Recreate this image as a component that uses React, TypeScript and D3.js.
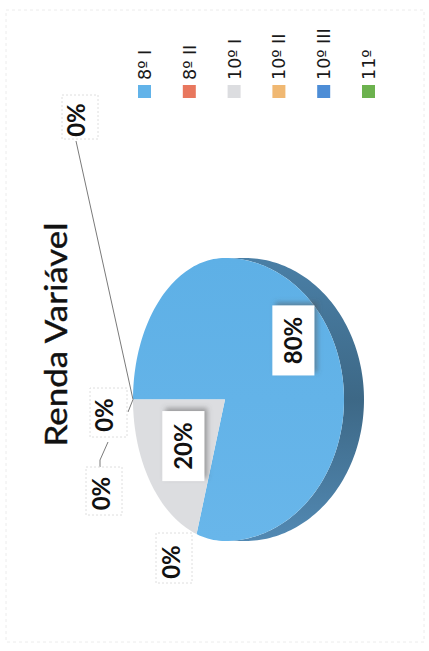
import React from "react";
import * as d3 from "d3";

const categories = ["8º I", "8º II", "10º I", "10º II", "10º III", "11º"];
const values = [80, 0, 20, 0, 0, 0];
const title = "Renda Variável";

const legendColors = ["#62b3e9", "#e8775e", "#dcdde0", "#f0b872", "#4d8dd6", "#6cb24e"];

// layout (rotated frame: u along the page height, v along the page width)
const W = 429;
const H = 651;
const UC = 251.5; // pie apex along u
const VA = 225; // pie apex along v
const RX = 141.5;
const RT = 92; // far half radius
const RB = 119; // near half radius
const DEPTH = 20;

type Box = { u0: number; u1: number; v0: number; v1: number; tu: number; tb: number };
const zeroBoxes: Record<number, Box> = {
  1: { u0: 68, u1: 118, v0: 156, v1: 192, tu: 89, tb: 180 },
  3: { u0: 214, u1: 263, v0: 90, v1: 127, tu: 236, tb: 113 },
  4: { u0: 136, u1: 184, v0: 86, v1: 122, tu: 157.5, tb: 110 },
  5: { u0: 512, u1: 556, v0: 62, v1: 98, tu: 531, tb: 85 },
};
const labelK: Record<number, number> = { 0: 0.71, 2: 0.56 };

function pt(t: number, dv = 0): [number, number] {
  const c = Math.cos(t);
  return [UC + RX * Math.sin(t), VA - (c >= 0 ? RT : RB) * c + dv];
}

function slicePath(a0: number, a1: number): string {
  const p = d3.path();
  p.moveTo(UC, VA);
  const n = Math.max(2, Math.ceil(((a1 - a0) / (2 * Math.PI)) * 200));
  for (let i = 0; i <= n; i++) {
    const [u, v] = pt(a0 + ((a1 - a0) * i) / n);
    p.lineTo(u, v);
  }
  p.closePath();
  return p.toString();
}

function sidePath(a0: number, a1: number): string | null {
  const s = Math.max(a0, Math.PI / 2);
  const e = Math.min(a1, (3 * Math.PI) / 2);
  if (e <= s) return null;
  const n = 120;
  const p = d3.path();
  for (let i = 0; i <= n; i++) {
    const [u, v] = pt(s + ((e - s) * i) / n);
    if (i === 0) p.moveTo(u, v);
    else p.lineTo(u, v);
  }
  for (let i = n; i >= 0; i--) {
    const [u, v] = pt(s + ((e - s) * i) / n, DEPTH);
    p.lineTo(u, v);
  }
  p.closePath();
  return p.toString();
}

const FONT = "Lato, 'Open Sans', 'DejaVu Sans', sans-serif";
const LEGEND_FONT = "'DejaVu Sans', sans-serif";

export default function App() {
  const arcs = d3.pie<number>().sort(null).value((d) => d)(values);
  const legendX = d3
    .scalePoint<string>()
    .domain(categories)
    .range([144.5, 368.5]);

  return (
    <svg
      width={W}
      height={H}
      style={{ position: "absolute", left: 0, top: 0, background: "#fff" }}
    >
      <defs>
        <filter id="sh" x="-30%" y="-30%" width="160%" height="160%">
          <feDropShadow dx="3" dy="3" stdDeviation="2.5" floodColor="#555" floodOpacity="0.5" />
        </filter>
        <linearGradient id="side" x1="0" y1="0" x2="1" y2="0" gradientUnits="objectBoundingBox">
          <stop offset="0" stopColor="#5289b3" />
          <stop offset="0.5" stopColor="#3d6886" />
          <stop offset="1" stopColor="#4a7fa6" />
        </linearGradient>
        <linearGradient id="top" x1="0" y1="0" x2="1" y2="0">
          <stop offset="0" stopColor="#68b6ea" />
          <stop offset="1" stopColor="#5eb0e6" />
        </linearGradient>
      </defs>
      <rect x={6} y={10} width={418} height={632} fill="none" stroke="#ececec" strokeDasharray="3,3" />
      <g transform={`translate(0,${H}) rotate(-90)`} fontFamily={FONT}>
        <text
          x={316.5}
          y={67}
          textAnchor="middle"
          fontSize={30}
          fill="#111"
          stroke="#111"
          strokeWidth={0.4}
          textLength={224}
          lengthAdjust="spacingAndGlyphs"
        >
          {title}
        </text>

        {/* legend */}
        {categories.map((c, i) => {
          const v = legendX(c) as number;
          return (
            <g key={c}>
              <rect x={553} y={v - 6.5} width={13} height={13} fill={legendColors[i]} />
              <text x={571} y={v + 6.5} fontSize={17.5} fill="#1a1a1a" fontFamily={LEGEND_FONT}>
                {c}
              </text>
            </g>
          );
        })}

        {/* pie side */}
        {arcs.map((a, i) => {
          const d = sidePath(a.startAngle, a.endAngle);
          return d ? <path key={"s" + i} d={d} fill="url(#side)" /> : null;
        })}
        {/* pie top */}
        {arcs.map((a, i) =>
          a.endAngle > a.startAngle ? (
            <path
              key={"t" + i}
              d={slicePath(a.startAngle, a.endAngle)}
              fill={i === 0 ? "url(#top)" : legendColors[i]}
            />
          ) : null
        )}

        {/* leader lines */}
        <g stroke="#7a7a7a" strokeWidth={1} fill="none">
          <line x1={510} y1={76} x2={pt(0)[0]} y2={pt(0)[1]} />
          <polyline points={`184,100 191,100 209,108`} />
          <line x1={239} y1={128} x2={pt(0)[0]} y2={pt(0)[1]} />
        </g>

        {/* labels */}
        {arcs.map((a, i) => {
          const txt = `${values[i]}%`;
          if (values[i] > 0) {
            const mid = (a.startAngle + a.endAngle) / 2;
            const k = labelK[i];
            const c = Math.cos(mid);
            const u = UC + RX * k * Math.sin(mid);
            const v = VA - (c >= 0 ? RT : RB) * k * c;
            return (
              <g key={"l" + i}>
                <rect x={u - 35} y={v - 21} width={70} height={42} fill="#fff" filter="url(#sh)" />
                <text x={u} y={v + 8.5} textAnchor="middle" fontSize={24} fontWeight={700} fill="#111">
                  {txt}
                </text>
              </g>
            );
          }
          const b = zeroBoxes[i];
          return (
            <g key={"l" + i}>
              <rect
                x={b.u0}
                y={b.v0}
                width={b.u1 - b.u0}
                height={b.v1 - b.v0}
                fill="#fff"
                stroke="#dedede"
                strokeDasharray="2,2"
              />
              <text x={b.tu} y={b.tb} textAnchor="middle" fontSize={24} fontWeight={700} fill="#111">
                {txt}
              </text>
            </g>
          );
        })}
      </g>
    </svg>
  );
}
